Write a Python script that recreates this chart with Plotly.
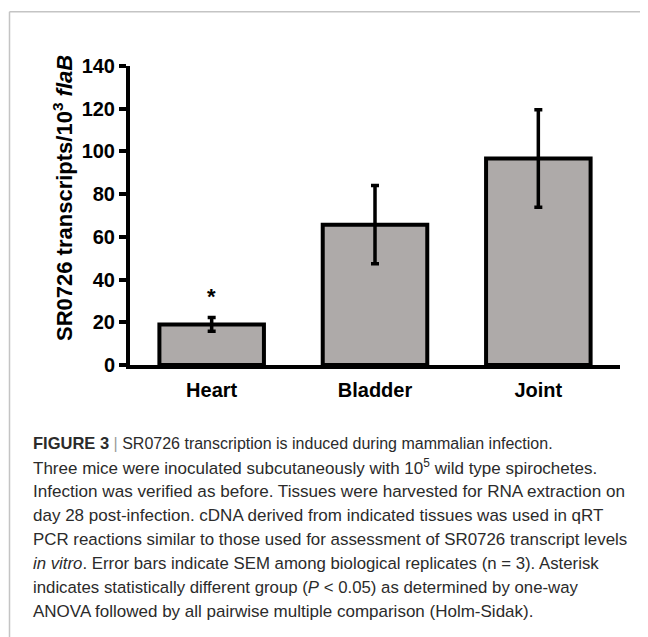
import plotly.graph_objects as go

categories = ["Heart", "Bladder", "Joint"]
means = [19.0, 65.7, 96.7]
sem = [3.2, 18.3, 22.8]
y_ticks = [0, 20, 40, 60, 80, 100, 120, 140]
significant = ["Heart"]

caption_lines = [
    "<span style='font-size:16.5px'><b>FIGURE 3</b></span> <span style='color:#9a9a9a'>|</span> SR0726 transcription is induced during mammalian infection.",
    "Three mice were inoculated subcutaneously with 10<sup>5</sup> wild type spirochetes.",
    "Infection was verified as before. Tissues were harvested for RNA extraction on",
    "day 28 post-infection. cDNA derived from indicated tissues was used in qRT",
    "PCR reactions similar to those used for assessment of SR0726 transcript levels",
    "<i>in vitro</i>. Error bars indicate SEM among biological replicates (n = 3). Asterisk",
    "indicates statistically different group (<i>P</i> &lt; 0.05) as determined by one-way",
    "ANOVA followed by all pairwise multiple comparison (Holm-Sidak).",
]
caption_sizes = [16.0, 17.0, 17.1, 17.0, 16.9, 16.8, 16.8, 17.0]

# page body has an 8px margin; work in reference-pixel coordinates and shift
OFF = 8
W, H = 648 - OFF, 637 - OFF
L, R, T, B = 130 - OFF, 28, 66 - OFF, 272
plot_w = W - L - R
plot_h = H - T - B

def px_x(px):
    return (px - OFF - L) / plot_w

def px_y(py):
    return (H - B - (py - OFF)) / plot_h

FONT = "Liberation Sans, Arial, sans-serif"

fig = go.Figure()
fig.add_trace(go.Bar(
    x=categories, y=means,
    marker=dict(color="#AEAAA9", line=dict(color="black", width=4)),
    width=0.64,
    error_y=dict(type="data", array=sem, visible=True, color="black",
                 thickness=3.5, width=4),
    showlegend=False,
))

annotations = []
for c, m, s in zip(categories, means, sem):
    if c in significant:
        annotations.append(dict(x=c, y=m + s + 9.8, xref="x", yref="y",
                                text="<b>*</b>", showarrow=False,
                                font=dict(size=22, color="black", family=FONT),
                                xanchor="center", yanchor="middle"))

annotations.append(dict(
    x=px_x(63), y=px_y(198), xref="paper", yref="paper",
    text="<b>SR0726 transcripts/10<sup>3</sup> <i>flaB</i></b>",
    textangle=-90, showarrow=False,
    font=dict(size=22, color="black", family=FONT),
    xanchor="center", yanchor="middle"))

cap_y0 = 443
cap_dy = 24.1
for i, (line, sz) in enumerate(zip(caption_lines, caption_sizes)):
    annotations.append(dict(
        x=px_x(31), y=px_y(cap_y0 + i * cap_dy), xref="paper", yref="paper",
        text=line, showarrow=False, align="left",
        font=dict(size=sz, color="#2b2b2b", family=FONT),
        xanchor="left", yanchor="middle"))

fig.update_layout(
    width=W, height=H,
    margin=dict(l=L, r=R, t=T, b=B, pad=0),
    paper_bgcolor="white", plot_bgcolor="white",
    annotations=annotations,
    shapes=[
        dict(type="line", xref="paper", yref="paper",
             x0=px_x(9.5), x1=px_x(649), y0=px_y(11.7), y1=px_y(11.7),
             line=dict(color="#c4c4c4", width=1.5)),
        dict(type="line", xref="paper", yref="paper",
             x0=px_x(9.5), x1=px_x(9.5), y0=px_y(11.7), y1=px_y(640),
             line=dict(color="#c4c4c4", width=1.5)),
    ],
)
fig.update_xaxes(
    showline=True, linecolor="black", linewidth=4,
    ticks="", showgrid=False, zeroline=False,
    ticklabelstandoff=4,
    tickfont=dict(size=20, color="black", family=FONT, weight="bold"),
    range=[-0.5, 2.5],
)
fig.update_yaxes(
    range=[0, 140], tickvals=y_ticks,
    showline=True, linecolor="black", linewidth=4,
    ticks="outside", ticklen=7, tickwidth=4, tickcolor="black",
    showgrid=False, zeroline=False,
    tickfont=dict(size=20, color="black", family=FONT, weight="bold"),
)

fig.write_html("out.html")
